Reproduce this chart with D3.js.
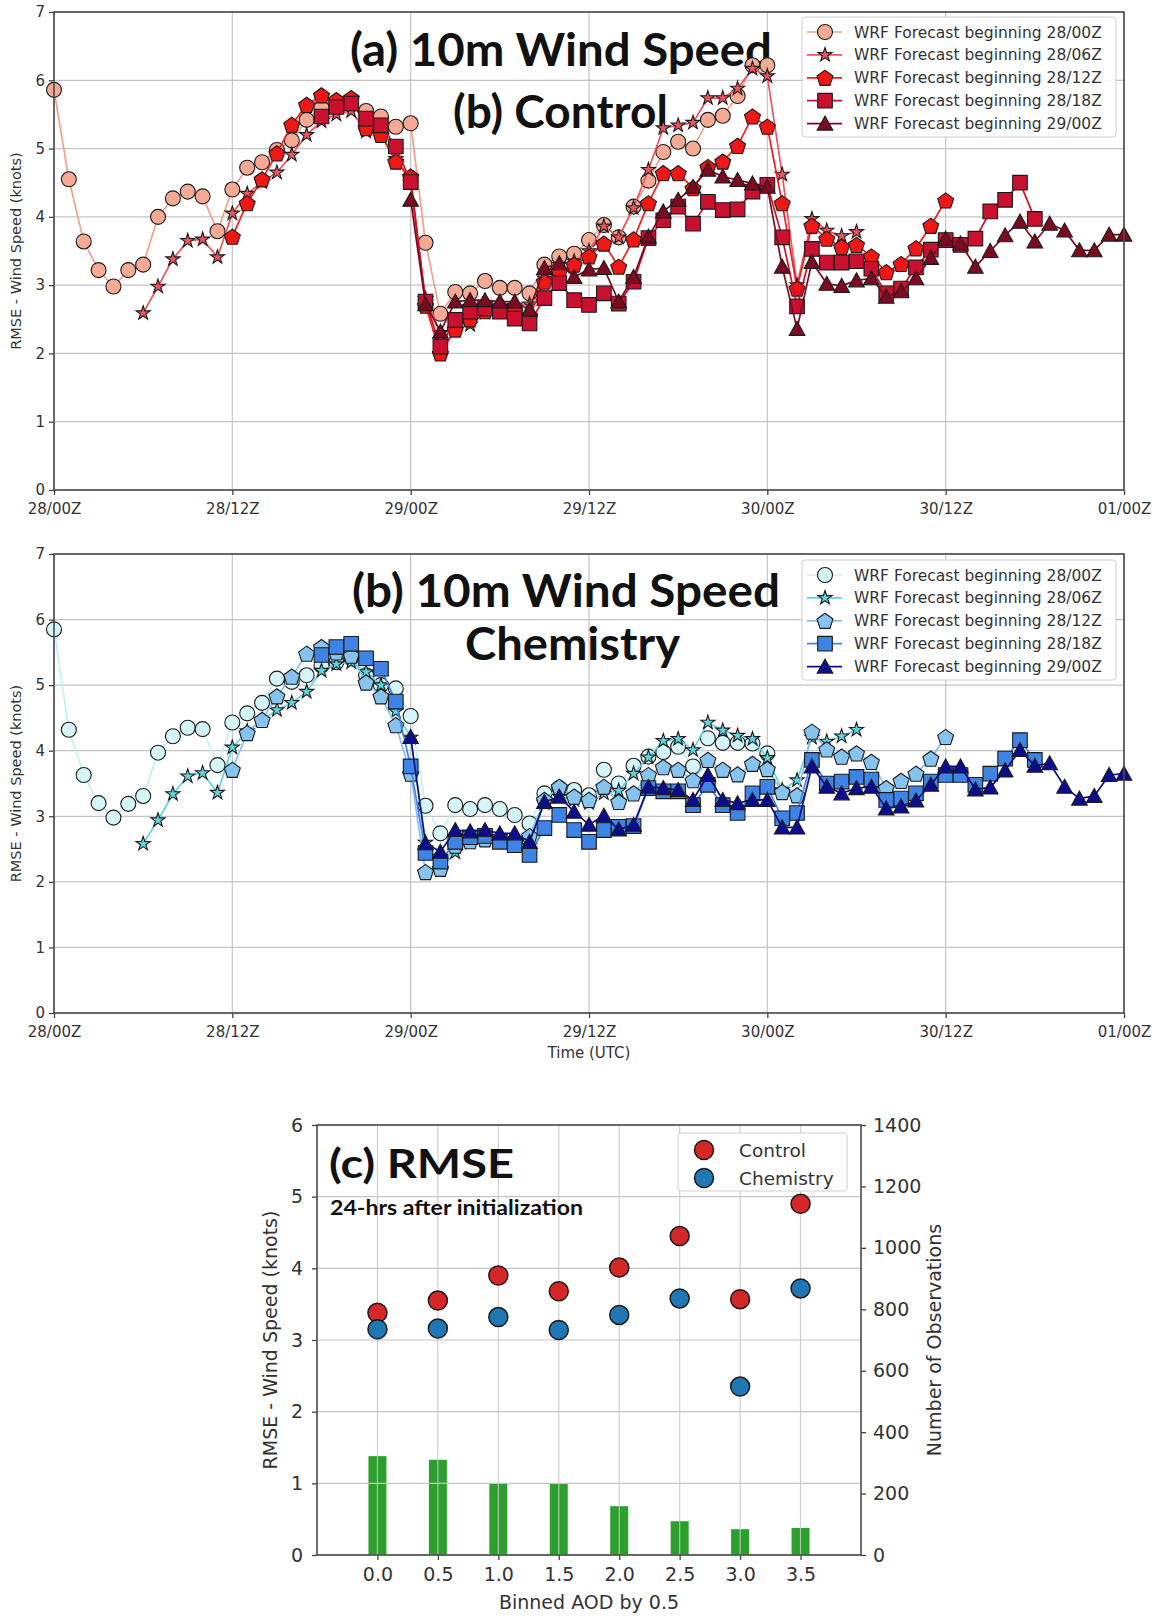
<html>
<head>
<meta charset="utf-8">
<title>WRF 10m wind speed RMSE</title>
<script src="https://d3js.org/d3.v7.min.js"></script>
</head>
<body>
<style> * { margin: 0px; padding: 0px; }
  body { background: #fff; }
  svg text { font-family: "DejaVu Sans", sans-serif; fill: #333; }
  .title { font-family: "Lato", sans-serif; font-weight: 700; fill: #111; }
</style>

<svg id="SVGcanvas" width="1165" height="1616" xmlns="http://www.w3.org/2000/svg"></svg>

<script>
// ---- data ----
var timeTicks = [0, 12, 24, 36, 48, 60, 72];   // hours since 28/00Z
var timeLabels = ["28/00Z", "28/12Z", "29/00Z", "29/12Z", "30/00Z", "30/12Z", "01/00Z"];
var forecastNames = ["WRF Forecast beginning 28/00Z", "WRF Forecast beginning 28/06Z",
  "WRF Forecast beginning 28/12Z", "WRF Forecast beginning 28/18Z", "WRF Forecast beginning 29/00Z"];
var forecastStart = [0, 6, 12, 18, 24];          // first hour of each forecast
var rmseTicks = [0, 1, 2, 3, 4, 5, 6, 7];

// (a) control, hourly RMSE (knots)
var control00 = [5.86,4.55,3.64,3.22,2.98,3.22,3.30,4.00,4.27,4.37,4.30,3.79,4.40,4.72,4.80,4.98,5.12,5.42,5.60,5.68,5.66,5.55,5.47,5.32,5.37,3.62,2.58,2.90,2.88,3.06,2.96,2.96,2.88,3.30,3.42,3.46,3.66,3.88,3.70,4.15,4.53,4.95,5.10,5.00,5.42,5.48,5.77,6.22,6.22];
var control06 = [2.59,2.98,3.38,3.65,3.67,3.41,4.05,4.34,4.51,4.65,4.91,5.20,5.40,5.50,5.55,5.25,5.20,4.85,4.50,2.80,2.30,2.35,2.42,2.60,2.68,2.70,2.72,3.10,3.30,3.35,3.50,3.86,3.70,4.13,4.69,5.30,5.34,5.38,5.74,5.74,5.88,6.17,6.06,4.62,3.00,3.97,3.80,3.72,3.78];
var control12 = [3.71,4.20,4.55,4.93,5.35,5.64,5.78,5.71,5.74,5.30,5.20,4.81,4.59,2.70,2.00,2.35,2.50,2.62,2.68,2.62,2.55,3.05,3.20,3.30,3.42,3.61,3.27,3.67,4.20,4.64,4.64,4.42,4.73,4.81,5.04,5.47,5.32,4.20,2.95,3.87,3.68,3.56,3.59,3.42,3.19,3.31,3.54,3.87,4.24];
var control18 = [5.47,5.61,5.66,5.44,5.34,5.03,4.51,2.76,2.10,2.49,2.61,2.66,2.61,2.51,2.44,2.81,3.03,2.78,2.71,2.88,2.73,3.05,3.69,3.95,4.15,3.90,4.22,4.10,4.11,4.37,4.47,3.70,2.69,3.53,3.33,3.33,3.35,3.24,2.88,2.95,3.26,3.52,3.66,3.59,3.68,4.08,4.25,4.50,3.97];
var control24 = [4.25,2.72,2.32,2.76,2.78,2.78,2.76,2.76,2.64,3.25,3.32,3.12,3.23,3.25,2.76,3.12,3.71,4.08,4.25,4.44,4.69,4.59,4.54,4.49,4.44,3.27,2.36,3.34,3.02,2.99,3.07,3.10,2.83,2.91,3.10,3.40,3.68,3.61,3.27,3.50,3.73,3.93,3.64,3.90,3.80,3.51,3.51,3.74,3.74];

// (b) chemistry, hourly RMSE (knots)
var chem00 = [5.85,4.32,3.63,3.20,2.98,3.19,3.31,3.97,4.22,4.35,4.33,3.78,4.43,4.57,4.73,5.10,5.05,5.15,5.30,5.35,5.41,5.15,5.00,4.95,4.53,3.16,2.74,3.17,3.11,3.17,3.11,3.02,2.89,3.35,3.43,3.40,3.32,3.71,3.50,3.77,3.91,3.98,4.06,3.76,4.19,4.12,4.12,4.11,3.96];
var chem06 = [2.58,2.94,3.34,3.61,3.66,3.36,4.05,4.30,4.47,4.62,4.73,4.90,5.22,5.32,5.35,5.20,5.00,4.60,4.20,2.60,2.20,2.45,2.60,2.65,2.65,2.60,2.55,3.20,3.30,3.25,3.20,3.35,3.39,3.65,3.90,4.15,4.18,4.01,4.43,4.31,4.23,4.18,3.89,3.40,3.55,4.20,4.14,4.22,4.32];
var chem12 = [3.71,4.27,4.47,4.83,5.13,5.48,5.58,5.50,5.45,5.04,4.83,4.39,3.65,2.15,2.20,2.55,2.62,2.65,2.65,2.60,2.70,3.25,3.45,3.30,3.25,3.45,3.22,3.35,3.63,3.75,3.71,3.55,3.86,3.71,3.64,3.80,3.72,3.37,3.32,4.29,4.02,3.91,3.96,3.83,3.43,3.54,3.65,3.88,4.21];
var chem18 = [5.46,5.58,5.63,5.41,5.25,4.75,3.76,2.44,2.31,2.61,2.68,2.70,2.61,2.56,2.41,2.82,3.02,2.79,2.61,2.79,2.84,2.85,3.43,3.38,3.38,3.17,3.48,3.17,3.05,3.35,3.45,2.97,3.05,3.86,3.50,3.53,3.60,3.56,3.25,3.27,3.35,3.53,3.63,3.63,3.48,3.65,3.88,4.16,3.86];
var chem24 = [4.21,2.59,2.46,2.79,2.77,2.79,2.74,2.74,2.61,3.22,3.30,3.07,2.87,3.01,2.80,2.87,3.45,3.43,3.40,3.25,3.63,3.25,3.20,3.25,3.25,2.83,2.83,3.76,3.45,3.35,3.43,3.45,3.12,3.15,3.24,3.48,3.76,3.76,3.41,3.44,3.70,4.01,3.77,3.81,3.45,3.27,3.31,3.63,3.65];

// (c) RMSE 24 h after initialization, binned by AOD
var aodBins = [0.0, 0.5, 1.0, 1.5, 2.0, 2.5, 3.0, 3.5];
var controlRmse = [3.38, 3.55, 3.90, 3.68, 4.01, 4.45, 3.57, 4.90];
var chemRmse = [3.15, 3.16, 3.32, 3.14, 3.35, 3.58, 2.35, 3.72];
var obsCount = [322, 310, 233, 231, 159, 110, 84, 88];
var obsTicks = [0, 200, 400, 600, 800, 1000, 1200, 1400];

// ---- styles ----
var shapes = ["circle", "star", "pentagon", "square", "triangle"];
var redFills = ["#f5aa95", "#ec5460", "#ef1616", "#c9102f", "#7a0b20"];
var redLines = ["#f3a08c", "#ec5460", "#ef1f1f", "#c9102f", "#7a0b20"];
var blueFills = ["#d4f6f8", "#62d4e0", "#86c3ef", "#3f83e4", "#0c0c8e"];
var blueLines = ["#c4f1f6", "#62d4e0", "#86c3ef", "#3f83e4", "#0c0c8e"];

var svg = d3.select("#SVGcanvas");

// marker outlines drawn around (0,0)
function markerPath(shape) {
	var p = d3.path();
	if (shape == "circle") {
		p.arc(0, 0, 7.5, 0, 2 * Math.PI);
		return p.toString();
	}
	if (shape == "star") return d3.symbol().type(d3.symbolStar).size(62)();
	if (shape == "square") { p.rect(-7.3, -7.3, 14.6, 14.6); return p.toString(); }
	if (shape == "triangle") {
		p.moveTo(0, -7.5); p.lineTo(7.8, 6.5); p.lineTo(-7.8, 6.5); p.closePath();
		return p.toString();
	}
	// pentagon
	for (var i = 0; i < 5; i++) {
		var a = -Math.PI / 2 + i * 2 * Math.PI / 5;
		if (i == 0) p.moveTo(8.4 * Math.cos(a), 8.4 * Math.sin(a) + 0.8);
		else p.lineTo(8.4 * Math.cos(a), 8.4 * Math.sin(a) + 0.8);
	}
	p.closePath();
	return p.toString();
}

function drawTimePanel(top, bottom, seriesList, fills, lines, legendTop, titleLines) {
	var x = d3.scaleLinear().domain([0, 72]).range([54, 1124]);
	var y = d3.scaleLinear().domain([0, 7]).range([bottom, top]);
	var g = svg.append("g");

	// grid
	g.selectAll(null).data(rmseTicks).enter().append("line")
		.attr("x1", 54).attr("x2", 1124).attr("y1", d => y(d)).attr("y2", d => y(d))
		.attr("stroke", "#c4c4c4").attr("stroke-width", 1.2);
	g.selectAll(null).data(timeTicks).enter().append("line")
		.attr("y1", top).attr("y2", bottom).attr("x1", d => x(d)).attr("x2", d => x(d))
		.attr("stroke", "#c4c4c4").attr("stroke-width", 1.2);

	// titles
	titleLines.forEach(function (t) {
		g.append("text").attr("class", "title").attr("x", t[1]).attr("y", t[2])
			.attr("font-size", 46).attr("textLength", t[3]).attr("lengthAdjust", "spacingAndGlyphs")
			.text(t[0]);
	});

	// series
	seriesList.forEach(function (vals, k) {
		var pts = vals.map(function (v, i) { return [forecastStart[k] + i, v]; });
		var sg = g.append("g");
		sg.append("path").datum(pts)
			.attr("d", d3.line().x(d => x(d[0])).y(d => y(d[1])))
			.attr("fill", "none").attr("stroke", lines[k]).attr("stroke-width", 1.7);
		sg.selectAll(null).data(pts).enter().append("path")
			.attr("transform", d => "translate(" + x(d[0]) + "," + y(d[1]) + ")")
			.attr("d", markerPath(shapes[k]))
			.attr("fill", fills[k]).attr("stroke", "#1b1b1b").attr("stroke-width", 1.1);
	});

	// axes
	var ax = g.append("g").attr("transform", "translate(0," + bottom + ")")
		.call(d3.axisBottom(x).tickValues(timeTicks).tickFormat((d, i) => timeLabels[i]).tickSize(5).tickPadding(8));
	var ay = g.append("g").attr("transform", "translate(54,0)")
		.call(d3.axisLeft(y).tickValues(rmseTicks).tickFormat(d3.format("d")).tickSize(5).tickPadding(4));
	[ax, ay].forEach(function (a) {
		a.select(".domain").remove();
		a.selectAll("line").attr("stroke", "#444").attr("stroke-width", 1.3);
		a.selectAll("text").attr("font-size", 15).attr("fill", "#333");
	});
	g.append("rect").attr("x", 54).attr("y", top).attr("width", 1070).attr("height", bottom - top)
		.attr("fill", "none").attr("stroke", "#4a4a4a").attr("stroke-width", 1.6);

	g.append("text").attr("transform", "translate(21," + ((top + bottom) / 2) + ") rotate(-90)")
		.attr("text-anchor", "middle").attr("font-size", 14.5).text("RMSE - Wind Speed (knots)");

	// legend
	var lg = g.append("g");
	lg.append("rect").attr("x", 802).attr("y", legendTop).attr("width", 314).attr("height", 120)
		.attr("rx", 3).attr("fill", "#fff").attr("fill-opacity", 0.9).attr("stroke", "#d0d0d0");
	forecastNames.forEach(function (name, k) {
		var ry = legendTop + 15 + k * 22.9;
		lg.append("line").attr("x1", 807).attr("x2", 842).attr("y1", ry).attr("y2", ry)
			.attr("stroke", lines[k]).attr("stroke-width", 1.7);
		lg.append("path").attr("transform", "translate(825," + ry + ")").attr("d", markerPath(shapes[k]))
			.attr("fill", fills[k]).attr("stroke", "#1b1b1b").attr("stroke-width", 1.1);
		lg.append("text").attr("x", 854).attr("y", ry + 5.5).attr("font-size", 15.5).text(name);
	});
}

drawTimePanel(12, 490, [control00, control06, control12, control18, control24], redFills, redLines, 17,
	[["(a) 10m Wind Speed", 350, 66, 422], ["(b) Control", 453, 128, 215]]);
drawTimePanel(554, 1013, [chem00, chem06, chem12, chem18, chem24], blueFills, blueLines, 560,
	[["(b) 10m Wind Speed", 352, 607, 428], ["Chemistry", 465, 660, 215]]);

svg.append("text").attr("x", 589).attr("y", 1058).attr("text-anchor", "middle")
	.attr("font-size", 15).text("Time (UTC)");

// ---- panel (c) ----
var cx = d3.scaleLinear().domain([-0.5, 4.0]).range([317, 861]);
var cy = d3.scaleLinear().domain([0, 6]).range([1555, 1125]);
var cy2 = d3.scaleLinear().domain([0, 1400]).range([1555, 1125]);
var gc = svg.append("g");

gc.selectAll(null).data(obsCount).enter().append("rect")
	.attr("x", (d, i) => cx(aodBins[i]) - 9).attr("width", 18)
	.attr("y", d => cy2(d)).attr("height", d => 1555 - cy2(d))
	.attr("fill", "#2ca02c");

gc.selectAll(null).data([0, 1, 2, 3, 4, 5, 6]).enter().append("line")
	.attr("x1", 317).attr("x2", 861).attr("y1", d => cy(d)).attr("y2", d => cy(d))
	.attr("stroke", "#c4c4c4").attr("stroke-width", 1.2);
gc.selectAll(null).data(aodBins).enter().append("line")
	.attr("y1", 1125).attr("y2", 1555).attr("x1", d => cx(d)).attr("x2", d => cx(d))
	.attr("stroke", "#c8c8c8").attr("stroke-opacity", 0.85).attr("stroke-width", 1.2);

gc.selectAll(null).data(controlRmse).enter().append("circle")
	.attr("cx", (d, i) => cx(aodBins[i])).attr("cy", d => cy(d)).attr("r", 9.5)
	.attr("fill", "#d62728").attr("stroke", "#1b1b1b").attr("stroke-width", 1.5);
gc.selectAll(null).data(chemRmse).enter().append("circle")
	.attr("cx", (d, i) => cx(aodBins[i])).attr("cy", d => cy(d)).attr("r", 9.5)
	.attr("fill", "#1f77b4").attr("stroke", "#1b1b1b").attr("stroke-width", 1.5);

var cax = gc.append("g").attr("transform", "translate(0,1555)")
	.call(d3.axisBottom(cx).tickValues(aodBins).tickFormat(d3.format(".1f")).tickSize(5).tickPadding(8));
var cay = gc.append("g").attr("transform", "translate(317,0)")
	.call(d3.axisLeft(cy).ticks(6).tickFormat(d3.format("d")).tickSize(5).tickPadding(9));
var cay2 = gc.append("g").attr("transform", "translate(861,0)")
	.call(d3.axisRight(cy2).tickValues(obsTicks).tickFormat(d3.format("d")).tickSize(5).tickPadding(7));
[cax, cay, cay2].forEach(function (a) {
	a.select(".domain").remove();
	a.selectAll("line").attr("stroke", "#444").attr("stroke-width", 1.3);
	a.selectAll("text").attr("font-size", 19).attr("fill", "#333");
});
gc.append("rect").attr("x", 317).attr("y", 1125).attr("width", 544).attr("height", 430)
	.attr("fill", "none").attr("stroke", "#4a4a4a").attr("stroke-width", 1.6);

gc.append("text").attr("transform", "translate(277,1340) rotate(-90)").attr("text-anchor", "middle")
	.attr("font-size", 19).text("RMSE - Wind Speed (knots)");
gc.append("text").attr("transform", "translate(941,1340) rotate(-90)").attr("text-anchor", "middle")
	.attr("font-size", 19).text("Number of Observations");
gc.append("text").attr("x", 589).attr("y", 1609).attr("text-anchor", "middle")
	.attr("font-size", 19).text("Binned AOD by 0.5");

gc.append("text").attr("class", "title").attr("x", 329).attr("y", 1178).attr("font-size", 40)
	.attr("textLength", 185).attr("lengthAdjust", "spacingAndGlyphs").text("(c) RMSE");
gc.append("text").attr("class", "title").attr("x", 330).attr("y", 1215).attr("font-size", 20)
	.attr("textLength", 253).attr("lengthAdjust", "spacingAndGlyphs").text("24-hrs after initialization");

// legend (c)
gc.append("rect").attr("x", 678).attr("y", 1133).attr("width", 169).attr("height", 58).attr("rx", 3)
	.attr("fill", "#fff").attr("fill-opacity", 0.9).attr("stroke", "#d0d0d0");
[["Control", "#d62728"], ["Chemistry", "#1f77b4"]].forEach(function (e, i) {
	var ry = 1150 + i * 28;
	gc.append("circle").attr("cx", 704).attr("cy", ry).attr("r", 9.5)
		.attr("fill", e[1]).attr("stroke", "#1b1b1b").attr("stroke-width", 1.5);
	gc.append("text").attr("x", 739).attr("y", ry + 6.5).attr("font-size", 18.5).text(e[0]);
});
</script>
</body>
</html>
